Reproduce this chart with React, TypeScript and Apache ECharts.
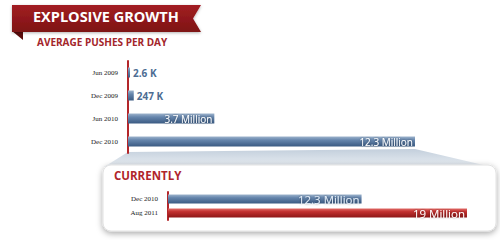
import React, { useEffect, useRef } from "react";
import * as echarts from "echarts";

const topCategories = ["Jun 2009", "Dec 2009", "Jun 2010", "Dec 2010"];
const topValues = [0.0026, 0.247, 3.7, 12.3]; // millions
const topLabels = ["2.6 K", "247 K", "3.7 Million", "12.3 Million"];
const topInside = [false, false, true, true];

const bottomCategories = ["Dec 2010", "Aug 2011"];
const bottomValues = [12.3, 19]; // millions
const bottomLabels = ["12.3 Million", "19 Million"];

const FONT = "'Open Sans', 'Noto Sans', sans-serif";

const blueFill = new echarts.graphic.LinearGradient(0, 0, 0, 1, [
  { offset: 0, color: "#9db3cc" },
  { offset: 0.35, color: "#6686ad" },
  { offset: 1, color: "#3a5a82" },
]);
const redFill = new echarts.graphic.LinearGradient(0, 0, 0, 1, [
  { offset: 0, color: "#e06a66" },
  { offset: 0.35, color: "#c2302f" },
  { offset: 1, color: "#8e1616" },
]);

export default function App() {
  const ref = useRef<HTMLDivElement>(null);
  useEffect(() => {
    if (!ref.current) return;
    const chart = echarts.init(ref.current, undefined, { renderer: "svg" });
    const labelAxis = {
      type: "category" as const,
      inverse: true,
      axisLine: { show: true, lineStyle: { color: "#b3262a", width: 2 } },
      axisTick: { show: false },
      axisLabel: {
        color: "#222",
        fontFamily: "'Liberation Serif', serif",
        fontSize: 7,
        margin: 10,
      },
    };
    chart.setOption({
      animation: false,
      backgroundColor: "#ffffff",
      grid: [
        { left: 128, top: 61, width: 287, height: 92 },
        { left: 168, top: 192, width: 299, height: 28 },
      ],
      xAxis: [
        { gridIndex: 0, type: "value", min: 0, max: 12.3, show: false },
        { gridIndex: 1, type: "value", min: 0, max: 19, show: false },
      ],
      yAxis: [
        { ...labelAxis, gridIndex: 0, data: topCategories },
        { ...labelAxis, gridIndex: 1, data: bottomCategories },
      ],
      graphic: [
        {
          type: "polygon",
          z: -3,
          shape: { points: [[128, 152], [415, 149], [492, 167], [104, 167]] },
          style: {
            fill: new echarts.graphic.LinearGradient(0, 0, 0, 1, [
              { offset: 0, color: "#c3cfdc" },
              { offset: 1, color: "#e9eef3" },
            ]),
          },
        },
        {
          type: "rect",
          z: -2,
          shape: { x: 103, y: 165, width: 393, height: 66, r: 8 },
          style: {
            fill: "#ffffff",
            stroke: "#e2e2e2",
            lineWidth: 1,
            shadowColor: "rgba(0,0,0,0.35)",
            shadowBlur: 6,
            shadowOffsetY: 2,
          },
        },
        {
          type: "text",
          z: 5,
          left: 114,
          top: 169,
          style: {
            text: "CURRENTLY",
            fill: "#b0252b",
            font: `bold 11.5px ${FONT}`,
          },
        },
        {
          type: "polygon",
          z: 4,
          shape: { points: [[12, 31], [23, 31], [23, 40]] },
          style: { fill: "#5a0c0c" },
        },
        {
          type: "polygon",
          z: 5,
          shape: { points: [[12, 5], [201, 5], [193, 18.5], [201, 32], [12, 32]] },
          style: {
            fill: new echarts.graphic.LinearGradient(0, 0, 0, 1, [
              { offset: 0, color: "#a21f22" },
              { offset: 1, color: "#7e1215" },
            ]),
            shadowColor: "rgba(0,0,0,0.3)",
            shadowBlur: 3,
            shadowOffsetY: 1,
          },
        },
        {
          type: "text",
          z: 6,
          left: 33,
          top: 9,
          style: {
            text: "EXPLOSIVE GROWTH",
            fill: "#ffffff",
            font: `bold 14.5px ${FONT}`,
          },
        },
        {
          type: "text",
          z: 6,
          left: 37,
          top: 37,
          style: {
            text: "AVERAGE PUSHES PER DAY",
            fill: "#a3262b",
            font: `bold 10px ${FONT}`,
          },
        },
      ],
      series: [
        {
          type: "bar",
          xAxisIndex: 0,
          yAxisIndex: 0,
          barWidth: 10,
          barMinHeight: 2,
          itemStyle: { color: blueFill },
          data: topValues.map((v, i) => ({
            value: v,
            label: {
              show: true,
              formatter: topLabels[i],
              position: topInside[i] ? "insideRight" : "right",
              distance: topInside[i] ? 2 : 3,
              fontFamily: FONT,
              fontSize: 10,
              fontWeight: topInside[i] ? "normal" : "bold",
              color: topInside[i] ? "#ffffff" : "#4d6d93",
              textShadowColor: topInside[i] ? "rgba(0,0,0,0.45)" : "transparent",
              textShadowBlur: topInside[i] ? 2 : 0,
            },
          })),
        },
        {
          type: "bar",
          xAxisIndex: 1,
          yAxisIndex: 1,
          barWidth: 9,
          data: bottomValues.map((v, i) => ({
            value: v,
            itemStyle: { color: i === 0 ? blueFill : redFill },
            label: {
              show: true,
              formatter: bottomLabels[i],
              position: "insideRight",
              distance: 2,
              fontFamily: FONT,
              fontSize: 11.5,
              color: i === 0 ? "#e4eef8" : "#ffffff",
              textShadowColor: "rgba(0,0,0,0.45)",
              textShadowBlur: 2,
            },
          })),
        },
      ],
    });
    return () => chart.dispose();
  }, []);
  return (
    <div
      ref={ref}
      style={{ position: "fixed", left: 0, top: 0, width: 500, height: 240 }}
    />
  );
}
